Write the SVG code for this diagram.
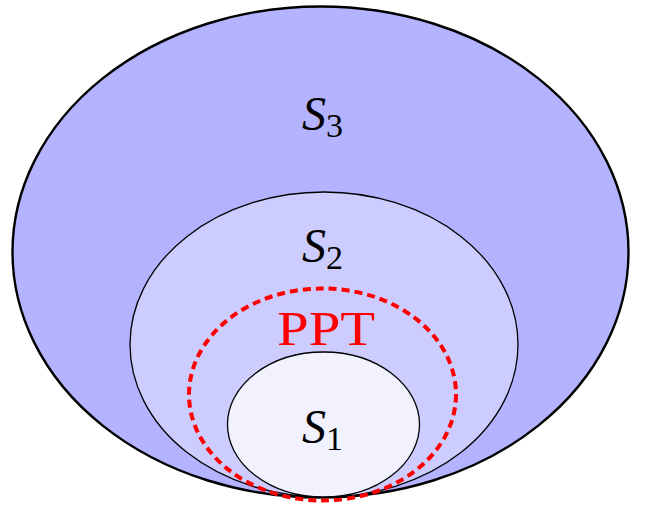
<svg xmlns="http://www.w3.org/2000/svg" width="649" height="508" viewBox="0 0 649 508">
<style>
.lbl{font-family:"Liberation Serif","DejaVu Serif",serif;font-size:48px;fill:#000}
.it{font-style:italic}
.sub{font-size:34px;font-style:normal}
</style>
<rect width="649" height="508" fill="#fff"/>
<g id="S3">
<ellipse cx="320.5" cy="252" rx="308" ry="245.5" fill="#b3b3ff" stroke="#000" stroke-width="2.4"/>
<text class="lbl" x="302" y="130"><tspan class="it">S</tspan><tspan class="sub" dy="7">3</tspan></text>
</g>
<g id="S2">
<ellipse cx="324" cy="344.5" rx="194" ry="152.5" fill="#ccccff" stroke="#000" stroke-width="1.3"/>
<text class="lbl" x="302" y="262"><tspan class="it">S</tspan><tspan class="sub" dy="7">2</tspan></text>
</g>
<g id="S1">
<ellipse cx="323.5" cy="424.5" rx="96" ry="72.5" fill="#f2f2ff" stroke="#000" stroke-width="1.3"/>
<text class="lbl" x="302" y="443"><tspan class="it">S</tspan><tspan class="sub" dy="7">1</tspan></text>
</g>
<g id="PPT">
<ellipse cx="322.5" cy="394.5" rx="133.5" ry="106" fill="none" stroke="#ff0000" stroke-width="4" stroke-dasharray="8,5"/>
<text x="326" y="345" text-anchor="middle" font-family="Liberation Serif, serif" font-size="48" fill="#ff0000" textLength="98" lengthAdjust="spacingAndGlyphs">PPT</text>
</g>
<g id="connectors"></g>
</svg>
